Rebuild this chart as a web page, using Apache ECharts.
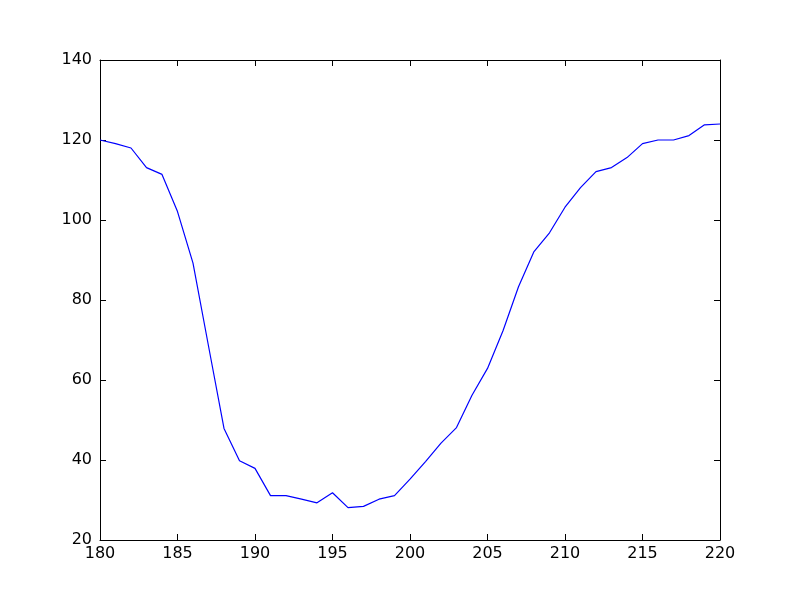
<!DOCTYPE html>
<html>
<head>
<meta charset="utf-8">
<script src="https://cdn.jsdelivr.net/npm/echarts@6/dist/echarts.min.js"></script>
<style>html,body{margin:0;padding:0;background:#fff}#c{width:800px;height:600px}</style>
</head>
<body>
<div id="c"></div>
<script>
var xValues = [180,181,182,183,184,185,186,187,188,189,190,191,192,193,194,195,196,197,198,199,200,201,202,203,204,205,206,207,208,209,210,211,212,213,214,215,216,217,218,219,220];
var yValues = [120,119.1,118,113.1,111.4,102.1,89.2,68.5,47.9,39.8,37.9,31.1,31.1,30.2,29.3,31.8,28.1,28.4,30.2,31.1,35.2,39.6,44.2,48.1,56.2,62.9,72.3,83.3,92.1,96.8,103.2,108.1,112.1,113.1,115.6,119.1,120,120,121.1,123.8,124];
var xTicks = [180,185,190,195,200,205,210,215,220];
var yTicks = [20,40,60,80,100,120,140];

var pts = xValues.map(function(x,i){return [x,yValues[i]];});
var font = {fontFamily:'DejaVu Sans', fontSize:16, color:'#000'};
var axLine = {show:true, onZero:false, lineStyle:{color:'#000', width:1}};
var tick = {show:true, inside:true, length:6, lineStyle:{color:'#000', width:1}};

var chart = echarts.init(document.getElementById('c'), null, {renderer:'canvas'});
chart.setOption({
  animation:false,
  backgroundColor:'#fff',
  grid:{left:100, right:80, top:60, bottom:60, containLabel:false},
  xAxis:[
    {type:'value', min:xTicks[0], max:xTicks[xTicks.length-1], interval:5, position:'bottom',
     axisLine:axLine, axisTick:tick, splitLine:{show:false},
     axisLabel:Object.assign({margin:6}, font)},
    {type:'value', min:xTicks[0], max:xTicks[xTicks.length-1], interval:5, position:'top',
     axisLine:axLine, axisTick:tick, splitLine:{show:false}, axisLabel:{show:false}}
  ],
  yAxis:[
    {type:'value', min:yTicks[0], max:yTicks[yTicks.length-1], interval:20, position:'left',
     axisLine:axLine, axisTick:tick, splitLine:{show:false},
     axisLabel:Object.assign({margin:8}, font)},
    {type:'value', min:yTicks[0], max:yTicks[yTicks.length-1], interval:20, position:'right',
     axisLine:axLine, axisTick:tick, splitLine:{show:false}, axisLabel:{show:false}}
  ],
  series:[{
    type:'line', data:pts, xAxisIndex:0, yAxisIndex:0,
    showSymbol:false, symbol:'none',
    lineStyle:{color:'#0000ff', width:1.2},
    clip:true
  }]
});
</script>
</body>
</html>
